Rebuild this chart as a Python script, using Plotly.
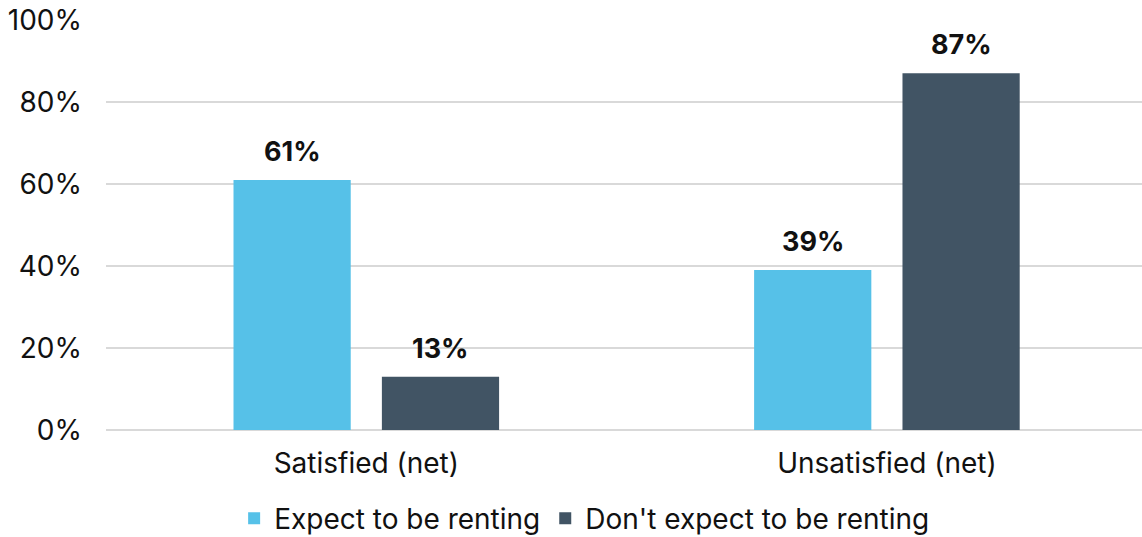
import plotly.graph_objects as go

categories = ["Satisfied (net)", "Unsatisfied (net)"]
expect_renting = [61, 39]
dont_expect_renting = [13, 87]
series_names = ["Expect to be renting", "Don't expect to be renting"]
y_ticks = [0, 20, 40, 60, 80, 100]
y_tick_labels = ["0%", "20%", "40%", "60%", "80%", "100%"]

FONT = "Inter, Roboto, sans-serif"
BARGAP = 0.43
BARGROUPGAP = 0.21

fig = go.Figure()
series = [
    (series_names[0], expect_renting, "#56C1E8"),
    (series_names[1], dont_expect_renting, "#415464"),
]
for name, values, color in series:
    fig.add_trace(go.Bar(
        x=list(range(len(categories))),
        y=values,
        name=name,
        marker=dict(color=color, line=dict(width=0)),
    ))

# value labels above each bar, offset to the centre of its slot in the group
slot = (1 - BARGAP) / len(series)
for i, (name, values, color) in enumerate(series):
    offset = (i - (len(series) - 1) / 2) * slot
    for ci, v in enumerate(values):
        fig.add_annotation(
            x=ci + offset, y=v, xref="x", yref="y",
            text=f"<b>{v}%</b>", showarrow=False,
            yanchor="bottom", yshift=10,
            font=dict(family=FONT, size=27, color="#111111"),
        )

fig.update_layout(
    width=1142,
    height=537,
    margin=dict(l=106, r=0, t=20, b=107, autoexpand=False),
    paper_bgcolor="white",
    plot_bgcolor="white",
    barmode="group",
    bargap=BARGAP,
    bargroupgap=BARGROUPGAP,
    font=dict(family=FONT, size=28, color="#111111"),
    showlegend=True,
    legend=dict(
        orientation="h",
        x=0.462,
        xanchor="center",
        y=-0.155,
        yanchor="top",
        font=dict(family=FONT, size=28, color="#111111"),
        itemwidth=30,
        traceorder="normal",
    ),
    xaxis=dict(
        tickvals=list(range(len(categories))),
        ticktext=categories,
        range=[-0.5, len(categories) - 0.51],
        showgrid=False,
        showline=False,
        zeroline=False,
        ticks="",
        automargin=False,
        ticklabelstandoff=14,
        tickfont=dict(family=FONT, size=28, color="#111111"),
    ),
    yaxis=dict(
        range=[0, 100],
        tickvals=y_ticks,
        ticktext=y_tick_labels,
        showgrid=True,
        gridcolor="#D9D9D9",
        gridwidth=2,
        zeroline=True,
        zerolinecolor="#D9D9D9",
        zerolinewidth=2,
        showline=False,
        ticks="",
        automargin=False,
        ticklabelstandoff=23,
        tickfont=dict(family=FONT, size=28, color="#111111"),
    ),
)

fig.write_html("out.html")
